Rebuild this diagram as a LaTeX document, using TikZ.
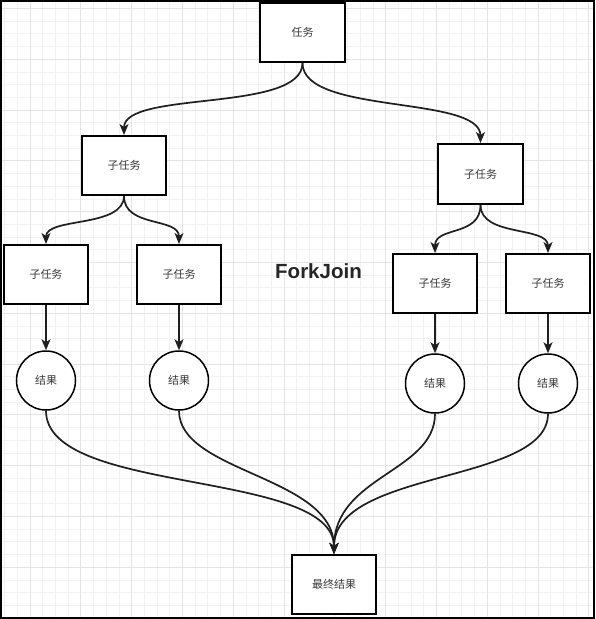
\documentclass[tikz,border=0pt]{standalone}
\usepackage{fontspec}
\newfontfamily\cjk{Noto Sans CJK SC}
\newfontfamily\titlefont{Liberation Sans}
\usetikzlibrary{arrows.meta}
\definecolor{minorgrid}{HTML}{F2F2F2}
\definecolor{majorgrid}{HTML}{E4E4E4}
\definecolor{txt}{HTML}{3A3A3A}
\tikzset{
  box/.style={draw=black, line width=2pt, fill=white, minimum width=84pt, minimum height=59pt, inner sep=0pt, font=\cjk\fontsize{11}{13}\selectfont, text=txt},
  res/.style={draw=black, line width=1.5pt, fill=white, circle, minimum size=59pt, inner sep=0pt, font=\cjk\fontsize{11}{13}\selectfont, text=txt},
  conn/.style={draw=black!88, line width=1.7pt, -{Stealth[length=11pt,width=9pt,inset=3pt]}},
}
\begin{document}
\begin{tikzpicture}[x=1pt,y=-1pt]
\useasboundingbox (0,0) rectangle (595,619);
\fill[white] (0,0) rectangle (595,619);
% grid
\foreach \i in {0,...,46} {
  \pgfmathsetmacro{\gx}{4.6+12.7*\i}
  \draw[minorgrid, line width=0.8pt] (\gx,0) -- (\gx,619);
}
\foreach \j in {0,...,48} {
  \pgfmathsetmacro{\gy}{8.4+12.7*\j}
  \draw[minorgrid, line width=0.8pt] (0,\gy) -- (595,\gy);
}
\foreach \i in {0,...,11} {
  \pgfmathsetmacro{\gx}{30+50.8*\i}
  \draw[majorgrid, line width=1pt] (\gx,0) -- (\gx,619);
}
\foreach \j in {-2,...,10} {
  \pgfmathsetmacro{\gy}{110+50.8*\j}
  \draw[majorgrid, line width=1pt] (0,\gy) -- (595,\gy);
}
% nodes
\node[box, minimum width=85pt] (t) at (302.5,32.5) {任务};
\node[box] (s1) at (124,165.5) {子任务};
\node[box, minimum width=85pt, minimum height=60pt] (s2) at (480.5,174) {子任务};
\node[box] (s11) at (46,274.5) {子任务};
\node[box] (s12) at (179,274.5) {子任务};
\node[box] (s21) at (435,283.5) {子任务};
\node[box] (s22) at (548,283.5) {子任务};
\node[res] (r11) at (46,380.5) {结果};
\node[res] (r12) at (179,380.5) {结果};
\node[res] (r21) at (435,383.5) {结果};
\node[res] (r22) at (548,383.5) {结果};
\node[box] (f) at (334,584.5) {最终结果};
\node[font=\titlefont\bfseries\fontsize{20.5}{24}\selectfont, text=black!85] (title) at (318.5,271) {ForkJoin};
% connectors
\draw[conn] (t.south) .. controls +(0,50) and +(0,-45) .. (s1.north);
\draw[conn] (t.south) .. controls +(0,52) and +(0,-48) .. (s2.north);
\draw[conn] (s1.south) .. controls +(0,32) and +(0,-27) .. (s11.north);
\draw[conn] (s1.south) .. controls +(0,32) and +(0,-27) .. (s12.north);
\draw[conn] (s2.south) .. controls +(0,32) and +(0,-27) .. (s21.north);
\draw[conn] (s2.south) .. controls +(0,32) and +(0,-27) .. (s22.north);
\draw[conn] (s11.south) -- (r11.north);
\draw[conn] (s12.south) -- (r12.north);
\draw[conn] (s21.south) -- (r21.north);
\draw[conn] (s22.south) -- (r22.north);
\draw[conn] (r11.south) .. controls +(0,85) and +(0,-85) .. (f.north);
\draw[conn] (r12.south) .. controls +(0,62) and +(0,-78) .. (f.north);
\draw[conn] (r21.south) .. controls +(0,58) and +(0,-78) .. (f.north);
\draw[conn] (r22.south) .. controls +(0,70) and +(0,-85) .. (f.north);
% frame
\draw[black, line width=2pt] (1,1) rectangle (594,618);
\end{tikzpicture}
\end{document}
